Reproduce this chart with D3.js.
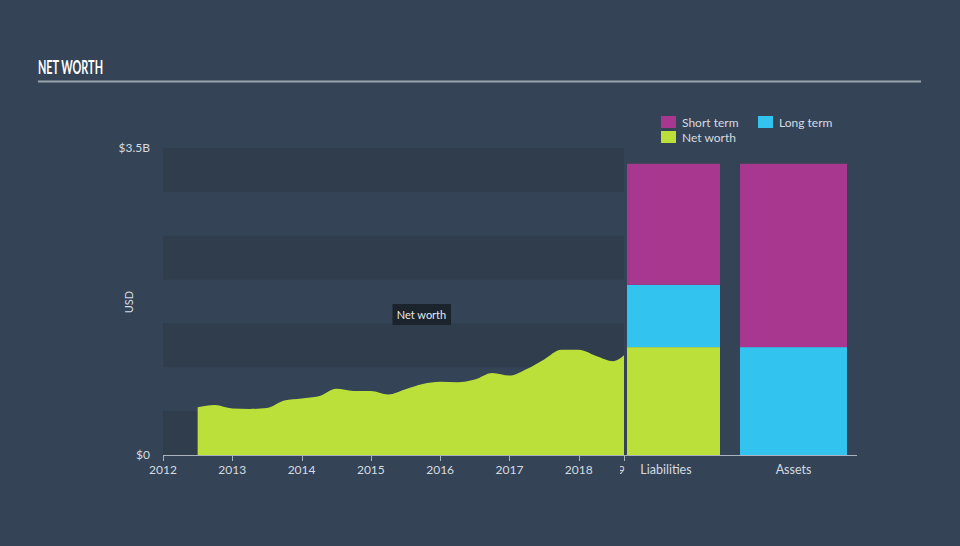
<!DOCTYPE html>
<html>
<head>
<meta charset="utf-8">
<script src="https://cdn.jsdelivr.net/npm/d3@7"></script>
<style>
  html, body { margin: 0; padding: 0; background: #344456; }
  svg { display: block; }
  text { font-family: Lato, "Open Sans", sans-serif; }
</style>
</head>
<body>
<svg id="chart" width="960" height="546"></svg>
<script>
// ---- data ----
const dates = [2012.5, 2012.75, 2013.0, 2013.25, 2013.5, 2013.75, 2014.0, 2014.25, 2014.5, 2014.75,
  2015.0, 2015.25, 2015.5, 2015.75, 2016.0, 2016.25, 2016.5, 2016.75, 2017.0, 2017.25,
  2017.5, 2017.75, 2018.0, 2018.25, 2018.5, 2018.66];
const netWorth = [0.545, 0.57, 0.53, 0.525, 0.535, 0.62, 0.645, 0.67, 0.755, 0.73,
  0.73, 0.69, 0.75, 0.81, 0.835, 0.83, 0.86, 0.935, 0.905, 0.98,
  1.09, 1.20, 1.20, 1.13, 1.07, 1.14];
const yearTicks = [2012, 2013, 2014, 2015, 2016, 2017, 2018];
const barCategories = ["Liabilities", "Assets"];
const shortTerm = [1.38, 2.09];
const longTerm = [0.71, 1.23];
const netWorthBar = [1.23, 0];
const yTickValues = [0, 3.5];
const yTickLabels = ["$0", "$3.5B"];
const legendItems = ["Short term", "Long term", "Net worth"];

// ---- style ----
const C = { bg: "#344456", band: "#2f3d4d", short: "#a8378f", long: "#33c3ef", net: "#bbe03a",
  text: "#d6dbe0", axis: "#aab3bd" };

const svg = d3.select("#chart");
svg.append("rect").attr("width", 960).attr("height", 546).attr("fill", C.bg);

// title
svg.append("text").attr("x", 38).attr("y", 74).text("NET WORTH")
  .attr("font-family", "'Liberation Sans Narrow', 'DejaVu Sans Condensed', sans-serif")
  .attr("font-weight", "bold").attr("font-size", 18).attr("fill", "#ffffff")
  .attr("textLength", 65).attr("lengthAdjust", "spacingAndGlyphs");
svg.append("line").attr("x1", 38).attr("x2", 921).attr("y1", 81.5).attr("y2", 81.5)
  .attr("stroke", "#9aa4ae").attr("stroke-width", 2);

// scales
const x = d3.scaleLinear().domain([2012, 2019]).range([163, 648]);
const y = d3.scaleLinear().domain([0, 3.5]).range([455, 148]);
const leftEnd = 624;

// bands
const bandEdges = d3.range(0, 3.5, 0.5);
svg.append("g").selectAll("rect").data(bandEdges.filter((d, i) => i % 2 === 0)).join("rect")
  .attr("x", 163).attr("width", leftEnd - 163)
  .attr("y", d => y(d + 0.5)).attr("height", d => y(d) - y(d + 0.5))
  .attr("fill", C.band);

// area
const defs = svg.append("defs");
defs.append("clipPath").attr("id", "leftClip")
  .append("rect").attr("x", 163).attr("y", 0).attr("width", leftEnd - 163).attr("height", 546);
const area = d3.area().x((d, i) => x(dates[i])).y0(y(0)).y1(d => y(d)).curve(d3.curveMonotoneX);
svg.append("path").datum(netWorth).attr("d", area).attr("fill", C.net)
  .attr("clip-path", "url(#leftClip)");

// bars
const bx = d3.scaleOrdinal().domain(barCategories).range([627, 740]);
const bw = d3.scaleOrdinal().domain(barCategories).range([93, 107]);
const barG = svg.append("g");
barCategories.forEach((c, i) => {
  const segs = [{ v0: 0, v1: netWorthBar[i], col: C.net }];
  const base = netWorthBar[i];
  segs.push({ v0: base, v1: base + longTerm[i], col: C.long });
  segs.push({ v0: base + longTerm[i], v1: base + longTerm[i] + shortTerm[i], col: C.short });
  barG.selectAll(null).data(segs.filter(s => s.v1 > s.v0)).join("rect")
    .attr("x", bx(c)).attr("width", bw(c))
    .attr("y", s => y(s.v1)).attr("height", s => y(s.v0) - y(s.v1))
    .attr("fill", s => s.col);
});

// axes
svg.append("line").attr("x1", 163).attr("x2", 857).attr("y1", 455.5).attr("y2", 455.5)
  .attr("stroke", C.axis).attr("stroke-width", 1);
const xt = svg.append("g");
xt.selectAll("line").data(yearTicks.concat([2018.66])).join("line")
  .attr("x1", d => Math.round(x(d)) + 0.5).attr("x2", d => Math.round(x(d)) + 0.5)
  .attr("y1", 455).attr("y2", 461).attr("stroke", C.axis);
xt.selectAll("text").data(yearTicks).join("text")
  .attr("x", d => x(d)).attr("y", 474).attr("text-anchor", "middle")
  .attr("font-size", 12).attr("fill", C.text).text(d => d);
// clipped end label fragment (hidden behind the liabilities bar)
defs.append("clipPath").attr("id", "endClip")
  .append("rect").attr("x", 620).attr("y", 440).attr("width", 4.5).attr("height", 50);
svg.append("text").attr("x", 625).attr("y", 474).attr("text-anchor", "end")
  .attr("font-size", 12).attr("fill", C.text)
  .attr("clip-path", "url(#endClip)").text("2019");

svg.append("g").selectAll("text").data(barCategories).join("text")
  .attr("x", (d, i) => i === 0 ? 666 : bx(d) + bw(d) / 2).attr("y", 474)
  .attr("text-anchor", "middle").attr("font-size", 12.5).attr("fill", C.text).text(d => d);

svg.append("g").selectAll("text").data(yTickValues).join("text")
  .attr("x", 150).attr("y", d => y(d) + 4).attr("text-anchor", "end")
  .attr("font-size", 12).attr("fill", C.text).text((d, i) => yTickLabels[i]);

svg.append("text").attr("transform", "translate(133,302) rotate(-90)")
  .attr("text-anchor", "middle").attr("font-size", 11).attr("fill", C.text).text("USD");

// tooltip label
const tip = svg.append("g");
tip.append("rect").attr("x", 392.5).attr("y", 304).attr("width", 58.5).attr("height", 21)
  .attr("fill", "#1b232d");
tip.append("text").attr("x", 421.5).attr("y", 319).attr("text-anchor", "middle")
  .attr("font-size", 11).attr("fill", "#e6e9ec").text("Net worth");

// legend
const legPos = [[661, 116], [758, 116], [661, 131]];
const legCol = [C.short, C.long, C.net];
const lg = svg.append("g");
legendItems.forEach((t, i) => {
  lg.append("rect").attr("x", legPos[i][0]).attr("y", legPos[i][1]).attr("width", 15).attr("height", 12)
    .attr("fill", legCol[i]);
  lg.append("text").attr("x", legPos[i][0] + 21).attr("y", legPos[i][1] + 10.5)
    .attr("font-size", 12).attr("fill", C.text).text(t);
});
</script>
</body>
</html>
